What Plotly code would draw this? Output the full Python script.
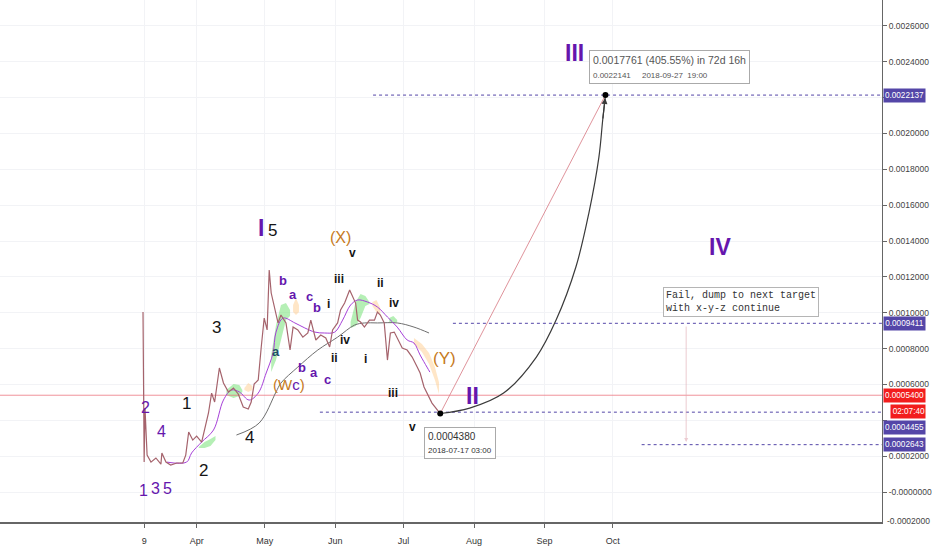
import plotly.graph_objects as go

# -- Elliott wave count on a 4h chart --

FONT = "Liberation Sans, Arial, sans-serif"
PURPLE = "#6516ad"
ORANGE = "#c67a1c"
BLACK = "#151515"
TEAL = "#1f4d6b"
LEVEL_BLUE = "#5446a8"

# price path (one point per swing)
price_dates = [
    "2018-03-08 10:00", "2018-03-08 22:00", "2018-03-09 07:00", "2018-03-10 05:00", "2018-03-11 22:00",
    "2018-03-14 02:00", "2018-03-16 07:00", "2018-03-16 17:00", "2018-03-18 12:00", "2018-03-20 14:00",
    "2018-03-23 07:00", "2018-03-25 22:00", "2018-03-27 05:00", "2018-03-28 12:00", "2018-03-30 07:00",
    "2018-04-01 00:00", "2018-04-03 05:00", "2018-04-04 12:00", "2018-04-06 05:00", "2018-04-07 14:00",
    "2018-04-08 22:00", "2018-04-11 00:00", "2018-04-12 19:00", "2018-04-15 00:00", "2018-04-17 05:00",
    "2018-04-19 07:00", "2018-04-21 12:00", "2018-04-23 17:00", "2018-04-25 00:00", "2018-04-26 07:00",
    "2018-04-28 02:00", "2018-04-29 10:00", "2018-04-30 17:00", "2018-05-02 00:00", "2018-05-02 22:00",
    "2018-05-03 19:00", "2018-05-05 12:00", "2018-05-06 19:00", "2018-05-08 02:00", "2018-05-10 07:00",
    "2018-05-12 02:00", "2018-05-13 10:00", "2018-05-15 12:00", "2018-05-17 17:00", "2018-05-19 22:00",
    "2018-05-21 05:00", "2018-05-23 10:00", "2018-05-25 14:00", "2018-05-27 19:00", "2018-05-29 12:00",
    "2018-05-30 19:00", "2018-06-02 00:00", "2018-06-03 07:00", "2018-06-05 02:00", "2018-06-07 07:00",
    "2018-06-08 14:00", "2018-06-09 22:00", "2018-06-10 19:00", "2018-06-12 02:00", "2018-06-13 19:00",
    "2018-06-16 00:00", "2018-06-18 05:00", "2018-06-19 12:00", "2018-06-20 19:00", "2018-06-22 12:00",
    "2018-06-23 22:00", "2018-06-25 05:00", "2018-06-26 22:00", "2018-06-29 02:00", "2018-06-30 10:00",
    "2018-07-02 14:00", "2018-07-04 19:00", "2018-07-07 00:00", "2018-07-08 07:00", "2018-07-10 00:00",
    "2018-07-11 07:00", "2018-07-13 12:00", "2018-07-17 03:00",
]
price_values = [
    0.001004, 0.000167, 0.000468, 0.000206, 0.000167,
    0.000190, 0.000156, 0.000218, 0.000167, 0.000151,
    0.000162, 0.000162, 0.000206, 0.000335, 0.000290,
    0.000312, 0.000279, 0.000346, 0.000441, 0.000552,
    0.000502, 0.000692, 0.000608, 0.000558, 0.000580,
    0.000547, 0.000474, 0.000463, 0.000502, 0.000602,
    0.000625, 0.000809, 0.000970, 0.000904, 0.001238,
    0.001110, 0.001015, 0.000943, 0.000987, 0.000943,
    0.000792, 0.000920, 0.000904, 0.000864, 0.000887,
    0.000959, 0.000848, 0.000876, 0.000859, 0.000809,
    0.000904, 0.000943, 0.001015, 0.001054, 0.001127,
    0.001088, 0.001054, 0.000959, 0.000948, 0.000920,
    0.000959, 0.000959, 0.001004, 0.000987, 0.000943,
    0.000736, 0.000887, 0.000892, 0.000831, 0.000803,
    0.000792, 0.000753, 0.000697, 0.000664, 0.000586,
    0.000552, 0.000496, 0.000438,
]

# fast MA (purple) and slow MA (grey)
ma_fast_dates = [
    "2018-03-18 22:00", "2018-03-27 14:00", "2018-03-29 19:00", "2018-04-03 05:00", "2018-04-08 10:00",
    "2018-04-12 19:00", "2018-04-16 07:00", "2018-04-19 19:00", "2018-04-24 02:00", "2018-04-28 02:00",
    "2018-05-01 14:00", "2018-05-04 14:00", "2018-05-05 22:00", "2018-05-09 00:00", "2018-05-14 05:00",
    "2018-05-18 14:00", "2018-05-23 00:00", "2018-05-27 07:00", "2018-05-31 17:00", "2018-06-04 05:00",
    "2018-06-07 17:00", "2018-06-10 19:00", "2018-06-15 02:00", "2018-06-19 12:00", "2018-06-23 22:00",
    "2018-06-28 05:00", "2018-07-02 14:00", "2018-07-05 14:00", "2018-07-08 07:00", "2018-07-11 07:00",
    "2018-07-12 14:00",
]
ma_fast_values = [
    0.000167, 0.000167, 0.000218, 0.000279, 0.000346,
    0.000513, 0.000569, 0.000558, 0.000513, 0.000552,
    0.000664, 0.000775, 0.000892, 0.000970, 0.000943,
    0.000915, 0.000892, 0.000887, 0.000892, 0.000959,
    0.001043, 0.001071, 0.001060, 0.001032, 0.000976,
    0.000920, 0.000848, 0.000831, 0.000764, 0.000697,
    0.000669,
]
ma_slow_dates = [
    "2018-04-18 12:00", "2018-04-28 12:00", "2018-05-05 22:00", "2018-05-08 02:00", "2018-05-15 12:00",
    "2018-05-24 07:00", "2018-06-02 00:00", "2018-06-09 10:00", "2018-06-13 19:00", "2018-06-19 12:00",
    "2018-06-28 05:00", "2018-07-05 14:00", "2018-07-12 05:00",
]
ma_slow_values = [
    0.000318, 0.000385, 0.000558, 0.000608, 0.000697,
    0.000792, 0.000864, 0.000931, 0.000943, 0.000943,
    0.000943, 0.000920, 0.000887,
]

# small cloud patches (green = bullish, orange = bearish)
cloud_dates = [
    ["2018-04-01 22:00", "2018-04-04 12:00", "2018-04-07 02:00", "2018-04-09 07:00"],
    ["2018-04-14 02:00", "2018-04-17 05:00", "2018-04-19 19:00", "2018-04-21 02:00"],
    ["2018-04-22 00:00", "2018-04-23 17:00", "2018-04-25 12:00"],
    ["2018-05-03 19:00", "2018-05-05 22:00", "2018-05-08 02:00", "2018-05-10 07:00", "2018-05-12 02:00"],
    ["2018-05-13 10:00", "2018-05-14 17:00", "2018-05-16 00:00"],
    ["2018-06-07 17:00", "2018-06-09 22:00", "2018-06-12 02:00", "2018-06-14 05:00", "2018-06-16 00:00"],
    ["2018-06-17 07:00", "2018-06-19 02:00", "2018-06-20 19:00"],
    ["2018-06-24 17:00", "2018-06-26 12:00", "2018-06-28 05:00"],
    ["2018-07-05 14:00", "2018-07-09 02:00", "2018-07-12 05:00", "2018-07-14 19:00", "2018-07-16 14:00"],
]
cloud_tops = [
    [0.000251, 0.000279, 0.000296, 0.000312],
    [0.000569, 0.000602, 0.000597, 0.000569],
    [0.000580, 0.000608, 0.000591],
    [0.000764, 0.000931, 0.001043, 0.001054, 0.001015],
    [0.001043, 0.001082, 0.001043],
    [0.000948, 0.001060, 0.001104, 0.001093, 0.001060],
    [0.001060, 0.001071, 0.001026],
    [0.000970, 0.000982, 0.000959],
    [0.000859, 0.000825, 0.000775, 0.000697, 0.000613],
]
cloud_bots = [
    [0.000245, 0.000245, 0.000257, 0.000290],
    [0.000541, 0.000524, 0.000535, 0.000558],
    [0.000569, 0.000558, 0.000569],
    [0.000669, 0.000736, 0.000848, 0.000959, 0.000982],
    [0.001004, 0.000987, 0.001004],
    [0.000915, 0.000926, 0.000970, 0.001037, 0.001049],
    [0.001037, 0.001004, 0.000993],
    [0.000948, 0.000943, 0.000948],
    [0.000825, 0.000781, 0.000714, 0.000625, 0.000547],
]
cloud_kind = ["g", "g", "o", "g", "o", "g", "o", "g", "o"]

# horizontal levels
level_prices = [0.0022137, 0.0009411, 0.0004455, 0.0002643]
level_starts = ["2018-06-17 14:00", "2018-07-22 17:00", "2018-05-25 05:00", "2018-10-13 17:00"]
level_label_shift = [0, 0, -15, 0]
current_price = 0.00054
countdown = "02:07:40"

# projection from the wave II low to the wave III target
low_date, low_price = "2018-07-17 03:00", 0.000438
target_date, target_price = "2018-09-27 19:00", 0.0022141
arc_dates = [
    "2018-07-17 03:00", "2018-07-30 02:00", "2018-08-14 00:00", "2018-08-28 10:00", "2018-09-06 02:00",
    "2018-09-14 19:00", "2018-09-20 12:00", "2018-09-24 22:00", "2018-09-26 14:00", "2018-09-27 19:00",
]
arc_values = [
    0.000438, 0.000468, 0.000552, 0.000753, 0.000959,
    0.001255, 0.001556, 0.001868, 0.002075, 0.0022141,
]
fail_date = "2018-11-02 07:00"
fail_from, fail_to = 0.000931, 0.000279

# wave labels: text, date, price, colour, size
W_MIX = ("<span style='color:%s'>(W</span><span style='color:%s'>c</span>"
         "<span style='color:%s'>)</span>" % (ORANGE, PURPLE, ORANGE))
wave_text = ["2", "4", "1", "3", "5", "1", "2", "3", "4", "I", "5",
             "b", "a", "c", "b", "a", "b", "a", "c", W_MIX,
             "i", "ii", "iii", "iv", "(X)", "v", "i", "ii", "iv", "iii", "v",
             "(Y)", "II", "III", "IV"]
wave_dates = ["2018-03-09 17:00", "2018-03-16 17:00", "2018-03-08 10:00", "2018-03-14 02:00", "2018-03-19 07:00",
              "2018-03-27 14:00", "2018-04-04 02:00", "2018-04-09 17:00", "2018-04-24 02:00", "2018-04-29 10:00",
              "2018-05-04 05:00",
              "2018-05-09 00:00", "2018-05-13 10:00", "2018-05-20 19:00", "2018-05-23 19:00", "2018-05-05 22:00",
              "2018-05-17 07:00", "2018-05-22 12:00", "2018-05-28 17:00", "2018-05-11 12:00",
              "2018-05-29 02:00", "2018-05-31 17:00", "2018-06-02 12:00", "2018-06-05 02:00", "2018-06-03 07:00",
              "2018-06-08 14:00", "2018-06-14 05:00", "2018-06-20 19:00", "2018-06-26 22:00", "2018-06-26 12:00",
              "2018-07-04 19:00",
              "2018-07-18 19:00", "2018-07-31 10:00", "2018-09-14 00:00", "2018-11-17 05:00"]
wave_prices = [0.000474, 0.000335, 0.000006, 0.000022, 0.000022, 0.000496, 0.000123, 0.000920, 0.000307,
               0.001472, 0.001461,
               0.001177, 0.001104, 0.001093, 0.001032, 0.000786, 0.000697, 0.000664, 0.000630, 0.000600,
               0.001049, 0.000747, 0.001188, 0.000848, 0.001422, 0.001335, 0.000742, 0.001166, 0.001054,
               0.000552, 0.000363,
               0.000747, 0.000535, 0.002448, 0.001366]
wave_colors = [PURPLE] * 5 + [BLACK] * 4 + [PURPLE, BLACK] + \
              [PURPLE] * 4 + [TEAL] + [PURPLE] * 3 + [ORANGE] + \
              [BLACK] * 4 + [ORANGE] + [BLACK] * 6 + \
              [ORANGE, PURPLE, PURPLE, PURPLE]
wave_sizes = [16] * 5 + [17] * 4 + [23, 17] + [13] * 8 + [15] + [12] * 4 + [16] + [12] * 6 + [17, 23, 23, 23]
wave_bold = [False] * 9 + [True, False] + [True] * 8 + [False] + [True] * 4 + [False] + [True] * 6 + \
            [False, True, True, True]

# y axis ticks (0.0022000 and 0.0004000 sit under the price tags, so they are left blank)
y_ticks = [i * 0.0002 for i in range(0, 14)]
y_ticktext = ["-0.0000000"] + ["%.7f" % v for v in y_ticks[1:]]
y_ticktext[11] = ""
y_ticktext[2] = ""

x_start, x_end = "2018-01-04 12:30", "2019-01-27 10:00"
y_min, y_max = -0.000167, 0.002744

fig = go.Figure()

# clouds
for d, top, bot, kind in zip(cloud_dates, cloud_tops, cloud_bots, cloud_kind):
    col = "rgba(120,225,120,0.55)" if kind == "g" else "rgba(255,200,130,0.45)"
    fig.add_trace(go.Scatter(x=d + d[::-1], y=top + bot[::-1], fill="toself", fillcolor=col,
                             line=dict(width=0), mode="lines", hoverinfo="skip"))

# current price line
fig.add_trace(go.Scatter(x=[x_start, x_end], y=[current_price] * 2, mode="lines",
                         line=dict(color="rgba(235,110,120,0.75)", width=1)))

# dotted levels
for p, start in zip(level_prices, level_starts):
    fig.add_trace(go.Scatter(x=[start, x_end], y=[p, p], mode="lines",
                             line=dict(color=LEVEL_BLUE, width=1, dash="dot")))

# moving averages
fig.add_trace(go.Scatter(x=ma_slow_dates, y=ma_slow_values, mode="lines",
                         line=dict(color="#6e6e6e", width=1, shape="spline")))
fig.add_trace(go.Scatter(x=ma_fast_dates, y=ma_fast_values, mode="lines",
                         line=dict(color="#a640d8", width=1, shape="spline")))

# price
fig.add_trace(go.Scatter(x=price_dates, y=price_values, mode="lines",
                         line=dict(color="#a5636c", width=1.2)))

# projection lines
fig.add_trace(go.Scatter(x=[low_date, target_date], y=[low_price, target_price], mode="lines",
                         line=dict(color="rgba(215,120,130,0.8)", width=1)))
fig.add_trace(go.Scatter(x=arc_dates, y=arc_values, mode="lines",
                         line=dict(color="#3a3a3a", width=1.2, shape="spline")))
fig.add_trace(go.Scatter(x=[low_date, target_date], y=[low_price, target_price], mode="markers",
                         marker=dict(color="black", size=6)))

# arrow heads
fig.add_annotation(x=target_date, y=target_price, ax=arc_dates[-2], ay=arc_values[-2],
                   xref="x", yref="y", axref="x", ayref="y", showarrow=True, text="",
                   arrowhead=2, arrowsize=1, arrowwidth=1.2, arrowcolor="#3a3a3a", standoff=3)
fig.add_annotation(x=fail_date, y=fail_to, ax=fail_date, ay=fail_from,
                   xref="x", yref="y", axref="x", ayref="y", showarrow=True, text="",
                   arrowhead=2, arrowsize=0.8, arrowwidth=1, arrowcolor="rgba(225,170,180,0.6)")

# info boxes
fig.add_annotation(x=target_date, y=target_price, xref="x", yref="y", showarrow=False,
                   xanchor="left", yanchor="bottom", xshift=-16, yshift=11, align="left",
                   text="0.0017761 (405.55%) in 72d 16h<br>"
                        "<span style='font-size:8px'>0.0022141&nbsp;&nbsp;&nbsp;&nbsp;&nbsp;2018-09-27&nbsp;&nbsp;19:00</span>",
                   font=dict(family=FONT, size=10.5, color="#555"),
                   bgcolor="white", bordercolor="#aaa", borderwidth=1, borderpad=3)
fig.add_annotation(x=low_date, y=low_price, xref="x", yref="y", showarrow=False,
                   xanchor="left", yanchor="top", xshift=-16, yshift=-13, align="left",
                   text="0.0004380<br><span style='font-size:8px'>2018-07-17 03:00</span>",
                   font=dict(family=FONT, size=10, color="#333"),
                   bgcolor="white", bordercolor="#aaa", borderwidth=1, borderpad=3)
fig.add_annotation(x="2018-10-23 07:00", y=0.001143, xref="x", yref="y", showarrow=False,
                   xanchor="left", yanchor="top", align="left",
                   text="Fail, dump to next target<br>with x-y-z continue",
                   font=dict(family="Liberation Mono, DejaVu Sans Mono, monospace", size=10, color="#333"),
                   bgcolor="white", bordercolor="#b5b5b5", borderwidth=1, borderpad=2)

# wave labels
for t, d, p, c, s, b in zip(wave_text, wave_dates, wave_prices, wave_colors, wave_sizes, wave_bold):
    fig.add_annotation(x=d, y=p, xref="x", yref="y", text="<b>" + t + "</b>" if b else t,
                       showarrow=False, font=dict(family=FONT, size=s, color=c))

# price-scale tags
for p, shift in zip(level_prices, level_label_shift):
    fig.add_annotation(x=1, y=p, xref="paper", yref="y", xanchor="left", xshift=1, yshift=shift,
                       text="%.7f" % p, showarrow=False, width=41, height=13, borderpad=0,
                       font=dict(family=FONT, size=8.2, color="white"), bgcolor=LEVEL_BLUE)
fig.add_annotation(x=1, y=current_price, xref="paper", yref="y", xanchor="left", xshift=1,
                   text="%.7f" % current_price, showarrow=False, width=41, height=13, borderpad=0,
                   font=dict(family=FONT, size=8.2, color="white"), bgcolor="#f21d1d")
fig.add_annotation(x=1, y=current_price, xref="paper", yref="y", xanchor="left", xshift=8, yshift=-16,
                   text=countdown, showarrow=False, width=34, height=13, borderpad=0, align="right",
                   font=dict(family=FONT, size=8.2, color="white"), bgcolor="#f21d1d")
fig.add_annotation(x=1, y=(-0.0002 - y_min) / (y_max - y_min), xref="paper", yref="paper",
                   xanchor="left", xshift=3, text="-0.0002000", showarrow=False,
                   font=dict(family=FONT, size=8.5, color="#444"))

fig.update_layout(
    width=932, height=550,
    margin=dict(l=0, r=44, t=0, b=28),
    plot_bgcolor="white", paper_bgcolor="white",
    showlegend=False,
    font=dict(family=FONT, size=8.5, color="#444"),
    xaxis=dict(type="date", range=[x_start, x_end],
               tickvals=["2018-03-09", "2018-04-01", "2018-05-01", "2018-06-01", "2018-07-01",
                         "2018-08-01", "2018-09-01", "2018-10-01"],
               ticktext=["9", "Apr", "May", "Jun", "Jul", "Aug", "Sep", "Oct"],
               tickfont=dict(size=9, color="#333"), ticklabelstandoff=5,
               showgrid=True, gridcolor="#f2f3f6", ticks="outside", ticklen=4, tickcolor="#666",
               showline=True, linecolor="#666", linewidth=1.5, zeroline=False),
    yaxis=dict(side="right", range=[y_min, y_max],
               tickvals=y_ticks, ticktext=y_ticktext,
               showgrid=True, gridcolor="#f2f3f6", ticks="outside", ticklen=4, tickcolor="#666",
               showline=True, linecolor="#666", linewidth=1, zeroline=False),
)

# drop the browser's default page margin so the 932x550 figure sits at 0,0
fig.write_html("out.html", config={"displayModeBar": False},
               post_script="document.body.style.margin='0px';document.body.style.overflow='hidden';")
